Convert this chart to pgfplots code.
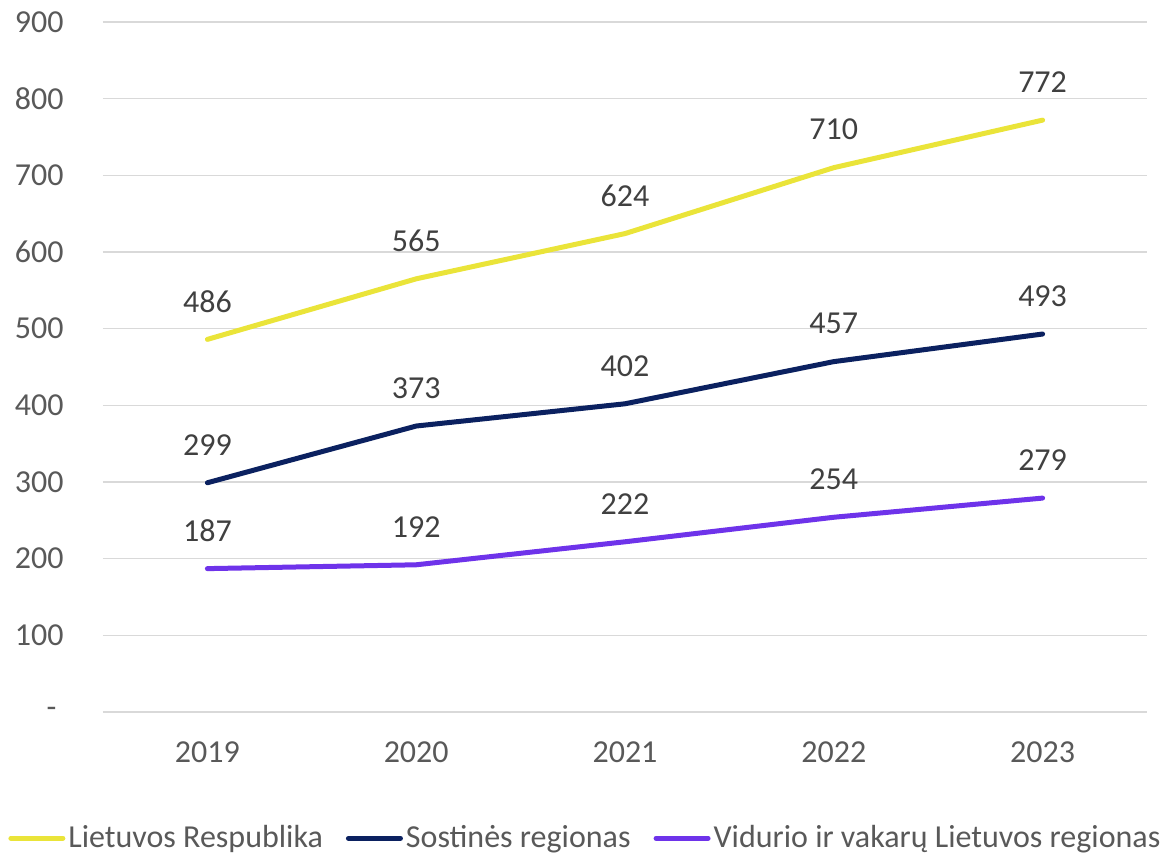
\documentclass[border=0pt]{standalone}
\usepackage{pgfplots}
\pgfplotsset{compat=1.18}
\usepackage{fontspec}
\setmainfont{Carlito}
\definecolor{cYellow}{HTML}{EAE439}
\definecolor{cNavy}{HTML}{0B2160}
\definecolor{cPurple}{HTML}{6E33EA}
\definecolor{cTick}{HTML}{595959}
\definecolor{cLabel}{HTML}{404040}
\definecolor{cGrid}{HTML}{D9D9D9}

\begin{document}
\begin{tikzpicture}
\path[use as bounding box] (-51.5pt,-71.5pt) rectangle (530pt,356pt);
\begin{axis}[
    at={(0pt,0pt)}, anchor=south west,
    scale only axis,
    width=522pt, height=345pt,
    xmin=-0.5, xmax=4.5,
    ymin=0, ymax=900,
    xtick={0,1,2,3,4},
    xticklabels={2019,2020,2021,2022,2023},
    ytick={100,200,...,900},
    extra y ticks={0},
    extra y tick labels={\makebox[8.5pt][l]{-}},
    major tick length=0pt,
    axis line style={draw=none},
    ymajorgrids=true,
    grid style={cGrid, line width=0.75pt},
    extra y tick style={grid style={cGrid, line width=0.75pt}},
    /pgf/number format/assume math mode=true,
    tick label style={font=\fontsize{16}{19}\selectfont, text=cTick, inner sep=0pt},
    xticklabel style={anchor=center, yshift=-20pt},
    yticklabel style={anchor=east, xshift=-19.5pt},
    every axis plot/.append style={line width=2.5pt, line cap=round, line join=round, mark=none},
    nodes near coords,
    nodes near coords style={font=\fontsize{16}{19}\selectfont, text=cLabel, anchor=center, yshift=19pt, inner sep=0pt},
    legend style={at={(rel axis cs:-0.091,-0.183)}, anchor=west, draw=none, fill=none,
        legend columns=3, font=\fontsize{16}{19}\selectfont, text=cTick,
        inner sep=0pt, nodes={inner sep=1.5pt},
        /tikz/every even column/.append style={column sep=10pt}},
    legend image code/.code={\draw[#1, line width=2.5pt, line cap=round] (0pt,0pt) -- (26pt,0pt);},
]
\addplot[cYellow] coordinates {(0,486) (1,565) (2,624) (3,710) (4,772)};
\addplot[cNavy] coordinates {(0,299) (1,373) (2,402) (3,457) (4,493)};
\addplot[cPurple] coordinates {(0,187) (1,192) (2,222) (3,254) (4,279)};
\legend{Lietuvos Respublika, Sostinės regionas, Vidurio ir vakarų Lietuvos regionas}
\end{axis}
\end{tikzpicture}
\end{document}
